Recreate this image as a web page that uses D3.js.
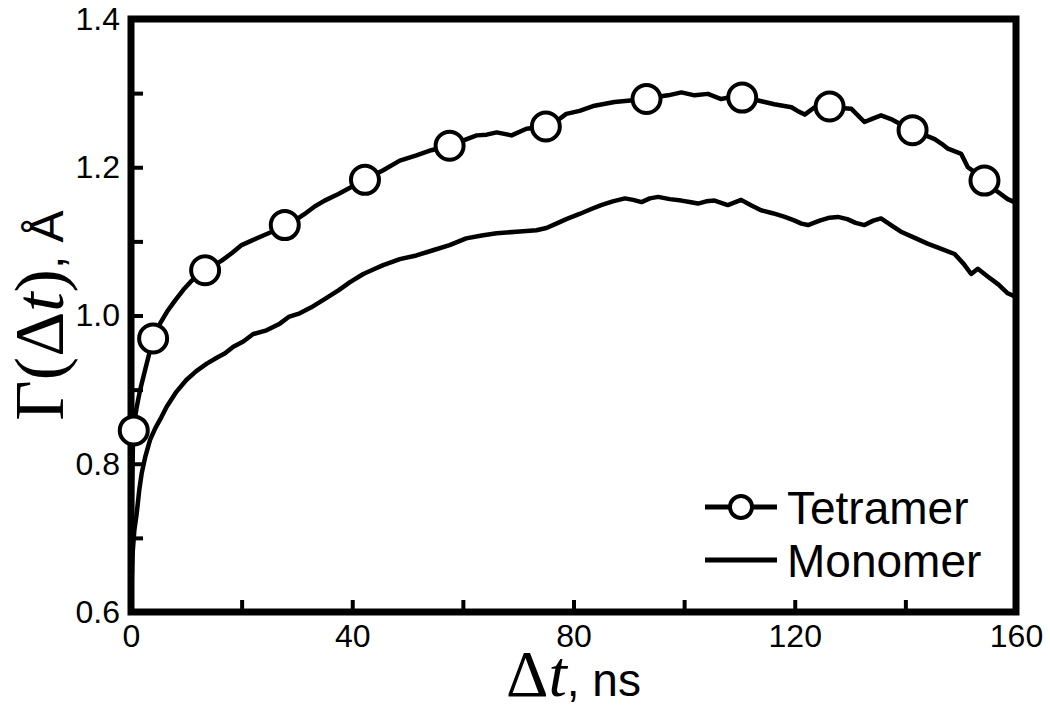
<!DOCTYPE html>
<html><head><meta charset="utf-8">
<script src="https://cdn.jsdelivr.net/npm/d3@7"></script>
<style>body{margin:0;background:#fff}</style>
</head><body>
<svg id="c" width="1050" height="711"></svg>
<script>
// ---- data ----
const tetramerX = [0.05,0.2,0.4,1.0,1.63,2.83,4.0,5.24,6.5,7.95,9.5,10.96,13.4,16.4,18.2,20,21.8,23.6,25.8,27.8,29.6,31.4,33.2,35.0,37.5,40,42.3,44,45.6,48.6,51.6,54.3,57.6,60,62.5,64.3,66.1,68.8,71.5,75,76.9,78.7,81.1,83.8,87.4,90.3,93.2,95.2,97.1,99.5,101.9,104.3,106.7,108.6,110.5,113.4,116.3,119.4,120.5,121.8,123.6,126.3,128.3,130.2,132.6,134.2,135.6,137.4,139.4,141.3,143.3,145.3,146.5,147.7,150.1,151.3,152.8,154.3,156.5,158.5,160];
const tetramerY = [0.65,0.77,0.845,0.875,0.899,0.935,0.969,0.989,1.005,1.020,1.035,1.047,1.061,1.074,1.084,1.095,1.101,1.107,1.114,1.122,1.128,1.137,1.147,1.155,1.164,1.174,1.183,1.19,1.196,1.209,1.216,1.223,1.229,1.236,1.243,1.244,1.247,1.243,1.252,1.255,1.262,1.272,1.276,1.283,1.288,1.290,1.292,1.295,1.297,1.301,1.297,1.299,1.292,1.295,1.294,1.290,1.285,1.281,1.276,1.271,1.281,1.282,1.280,1.279,1.261,1.266,1.270,1.265,1.257,1.250,1.244,1.238,1.232,1.225,1.218,1.200,1.192,1.182,1.168,1.157,1.152];
const markerX = [0.5,4.0,13.4,27.8,42.3,57.6,75.0,93.2,110.5,126.3,141.3,154.3];
const markerY = [0.845,0.969,1.061,1.122,1.183,1.229,1.255,1.292,1.294,1.282,1.250,1.182];
const monomerX = [0.05,0.3,0.6,1.03,1.5,1.93,2.6,3.43,4.4,5.5,6.45,8.2,10.0,11.8,13.7,15.5,17.0,18.5,20.3,22.1,24.5,26.9,28.5,30.5,32.6,35,37.5,39.6,42,43.8,45.6,48.6,51.6,54.6,57.6,60.6,63.4,66.1,69.7,73.3,75.1,76.9,78.7,81.1,83,85.0,87.1,89.3,90.8,92.3,93.8,95.3,97.4,99.5,101,102.5,104,105.5,107.9,110.3,112,113.9,116,118.2,120,121.2,122.4,124.5,126.3,127.8,129.5,131,132.6,134.2,135.6,137.4,139.2,141.6,144.0,146.5,148.9,150.5,151.9,153.1,155,156.8,158.5,160];
const monomerY = [0.625,0.68,0.71,0.733,0.765,0.787,0.81,0.832,0.848,0.863,0.877,0.897,0.913,0.925,0.935,0.943,0.949,0.958,0.965,0.975,0.980,0.989,0.998,1.003,1.011,1.022,1.034,1.045,1.056,1.062,1.068,1.076,1.081,1.088,1.095,1.104,1.108,1.111,1.113,1.115,1.118,1.124,1.13,1.137,1.143,1.149,1.154,1.158,1.156,1.153,1.158,1.160,1.157,1.155,1.153,1.151,1.154,1.155,1.149,1.156,1.149,1.142,1.138,1.133,1.128,1.124,1.122,1.128,1.132,1.133,1.130,1.125,1.122,1.128,1.131,1.122,1.113,1.105,1.097,1.090,1.083,1.070,1.056,1.063,1.052,1.042,1.030,1.025];
const xTicks = [0,20,40,60,80,100,120,140,160];
const xLabels = [0,40,80,120,160];
const yTicks = [0.6,0.7,0.8,0.9,1.0,1.1,1.2,1.3,1.4];
const yLabels = [0.6,0.8,1.0,1.2,1.4];
const seriesNames = ["Tetramer","Monomer"];

// ---- chart ----
const svg = d3.select("#c");
const x = d3.scaleLinear().domain([0,160]).range([131,1016]);
const y = d3.scaleLinear().domain([0.6,1.4]).range([612,19]);
const sans = "'Liberation Sans', Arial, sans-serif";
const serif = "'Liberation Serif', 'Times New Roman', serif";

svg.append("clipPath").attr("id","pc").append("rect")
  .attr("x",x(0)).attr("y",y(1.4)).attr("width",x(160)-x(0)).attr("height",y(0.6)-y(1.4));

const line = d3.line().x(d=>x(d[0])).y(d=>y(d[1]));
const tet = tetramerX.map((v,i)=>[v,tetramerY[i]]);
const mon = monomerX.map((v,i)=>[v,monomerY[i]]);

const plot = svg.append("g").attr("clip-path","url(#pc)");
plot.append("path").datum(mon).attr("d",line).attr("fill","none").attr("stroke","#000")
  .attr("stroke-width",4.5).attr("stroke-linejoin","round");
plot.append("path").datum(tet).attr("d",line).attr("fill","none").attr("stroke","#000")
  .attr("stroke-width",4.5).attr("stroke-linejoin","round");

// axes
const xAxis = d3.axisBottom(x).tickValues(xTicks).tickSizeInner(-12).tickSizeOuter(0).tickPadding(12)
  .tickFormat(d=>xLabels.includes(d)?d3.format("d")(d):"");
const gx = svg.append("g").attr("transform",`translate(0,${y(0.6)})`).call(xAxis);
const yAxis = d3.axisLeft(y).tickValues(yTicks).tickSizeInner(-12).tickSizeOuter(0).tickPadding(11)
  .tickFormat(d=>yLabels.some(v=>Math.abs(v-d)<1e-9)?d3.format(".1f")(d):"");
const gy = svg.append("g").attr("transform",`translate(${x(0)},0)`).call(yAxis);
[gx,gy].forEach(g=>{
  g.select(".domain").remove();
  g.selectAll(".tick line").attr("stroke","#000").attr("stroke-width",4);
  g.selectAll(".tick text").attr("fill","#000").style("font-family",sans).style("font-size","32px");
});

// frame
svg.append("rect").attr("x",x(0)).attr("y",y(1.4)).attr("width",x(160)-x(0)).attr("height",y(0.6)-y(1.4))
  .attr("fill","none").attr("stroke","#000").attr("stroke-width",7);

// markers (drawn over frame)
svg.append("g").selectAll("circle").data(markerX).join("circle")
  .attr("cx",d=>x(d)).attr("cy",(d,i)=>y(markerY[i])).attr("r",14)
  .attr("fill","#fff").attr("stroke","#000").attr("stroke-width",4);

// x title
const xt = svg.append("text").attr("x",(x(0)+x(160))/2).attr("y",696).attr("text-anchor","middle").attr("fill","#000");
xt.append("tspan").style("font-family",serif).style("font-size","66px").text("Δ");
xt.append("tspan").style("font-family",serif).style("font-style","italic").style("font-size","66px").text("t");
xt.append("tspan").style("font-family",sans).style("font-size","46px").text(", ns");

// y title
const yt = svg.append("text").attr("transform",`translate(63,${(y(0.6)+y(1.4))/2}) rotate(-90)`)
  .attr("text-anchor","middle").attr("fill","#000");
yt.append("tspan").style("font-family",serif).style("font-size","70px").text("Γ(Δ");
yt.append("tspan").style("font-family",serif).style("font-style","italic").style("font-size","70px").text("t");
yt.append("tspan").style("font-family",serif).style("font-size","70px").text(")");
yt.append("tspan").style("font-family",sans).style("font-size","48px").text(", Å");

// legend
const lg = svg.append("g");
const legY = [507,560];
seriesNames.forEach((n,i)=>{
  lg.append("line").attr("x1",705).attr("x2",777).attr("y1",legY[i]).attr("y2",legY[i])
    .attr("stroke","#000").attr("stroke-width",5);
  if(i===0) lg.append("circle").attr("cx",741).attr("cy",legY[i]).attr("r",11)
    .attr("fill","#fff").attr("stroke","#000").attr("stroke-width",4);
  lg.append("text").attr("x",787).attr("y",legY[i]+17).attr("fill","#000")
    .style("font-family",sans).style("font-size","46px").text(n);
});
</script>
</body></html>
